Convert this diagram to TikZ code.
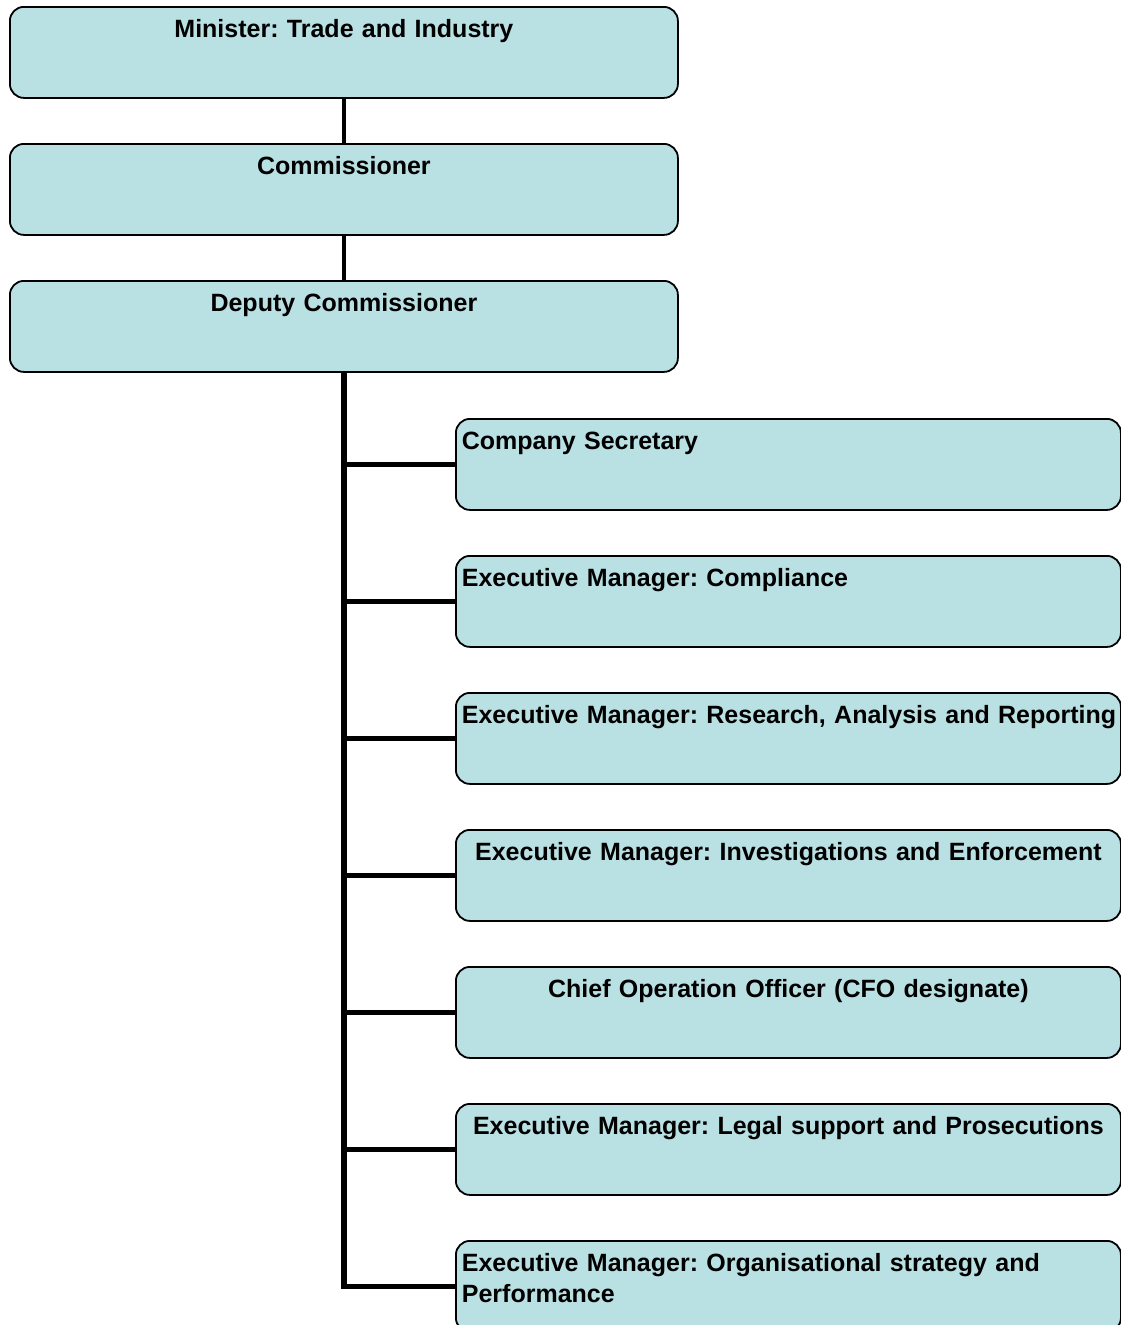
\documentclass[tikz,border=0pt]{standalone}
\usepackage{fontspec}
\setmainfont{Liberation Sans}
\frenchspacing
\hyphenpenalty=10000
\definecolor{boxfill}{RGB}{185,224,227}
\tikzset{
  orgbox/.style={draw=black, line width=1.8pt, fill=boxfill, rounded corners=14pt,
    inner xsep=6pt, inner ysep=0pt, text height=30.5pt, text depth=60.5pt,
    font=\fontsize{25pt}{31.5pt}\selectfont\bfseries, anchor=north west},
  topbox/.style={orgbox, text width=656pt, align=center},
  subbox/.style={orgbox, text width=653pt},
  link/.style={line width=4.5pt},
  trunk/.style={line width=5.5pt}
}
\begin{document}
\begin{tikzpicture}[x=1pt,y=-1pt]
\clip (0,0) rectangle (1121,1325);
\fill[white] (0,0) rectangle (1121,1325);
\node[topbox] (min) at (9,6) {Minister: Trade and Industry};
\node[topbox] (com) at (9,143) {Commissioner};
\node[topbox] (dep) at (9,280) {Deputy Commissioner};
\node[subbox,align=left] (c1) at (455,418) {Company Secretary};
\node[subbox,align=left] (c2) at (455,555) {Executive Manager: Compliance};
\node[subbox,align=left] (c3) at (455,692) {\mbox{Executive Manager: Research, Analysis and Reporting}};
\node[subbox,align=center] (c4) at (455,829) {Executive Manager: Investigations and Enforcement};
\node[subbox,align=center] (c5) at (455,966) {Chief Operation Officer (CFO designate)};
\node[subbox,align=center] (c6) at (455,1103) {Executive Manager: Legal support and Prosecutions};
\node[subbox,align=left] (c7) at (455,1240) {Executive Manager: Organisational strategy and\\Performance};
\draw[link] (min.south) -- (com.north);
\draw[link] (com.south) -- (dep.north);
\draw[trunk] (dep.south) -- (dep.south |- c7.west) -- (c7.west);
\foreach \c in {c1,c2,c3,c4,c5,c6}{
  \draw[trunk] (dep.south |- \c.west) -- (\c.west);
}
\end{tikzpicture}
\end{document}
